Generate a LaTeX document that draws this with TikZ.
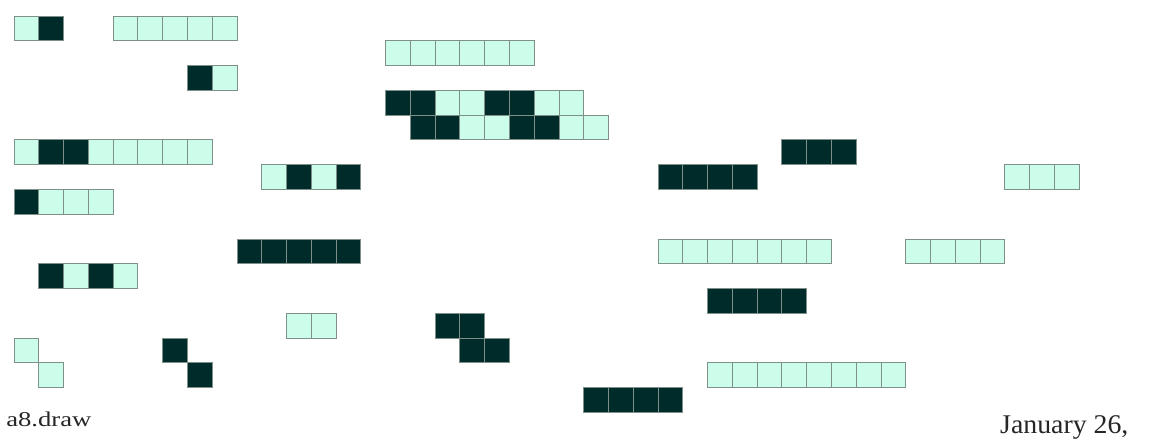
\documentclass[tikz,border=0pt]{standalone}
\usepackage{fontspec}
\setmainfont{Liberation Serif}
\definecolor{lt}{HTML}{CCFDEB}
\definecolor{dk}{HTML}{002B2B}
\definecolor{edge}{HTML}{7E9088}
\tikzset{cellbox/.style={draw=edge, line width=0.8pt},
  lbl/.style={inner sep=0pt, text=black!85}}
\newcommand\tiles[3]{%
  \foreach \cc [count=\i from 0] in {#3}{%
    \draw[cellbox, fill=\cc] (#1+\i,#2) rectangle ++(1,1);}}
\begin{document}
\begin{tikzpicture}[x=1pt,y=-1pt]
\useasboundingbox[fill=white] (0,0) rectangle (1150,444);
\begin{scope}[shift={(14pt,-16pt)}, x=24.77pt, y=-24.77pt]
\tiles{0}{0}{lt,dk}
\tiles{4}{0}{lt,lt,lt,lt,lt}
\tiles{7}{2}{dk,lt}
\tiles{15}{1}{lt,lt,lt,lt,lt,lt}
\tiles{15}{3}{dk,dk,lt,lt,dk,dk,lt,lt}
\tiles{16}{4}{dk,dk,lt,lt,dk,dk,lt,lt}
\tiles{0}{5}{lt,dk,dk,lt,lt,lt,lt,lt}
\tiles{31}{5}{dk,dk,dk}
\tiles{10}{6}{lt,dk,lt,dk}
\tiles{26}{6}{dk,dk,dk,dk}
\tiles{40}{6}{lt,lt,lt}
\tiles{0}{7}{dk,lt,lt,lt}
\tiles{9}{9}{dk,dk,dk,dk,dk}
\tiles{26}{9}{lt,lt,lt,lt,lt,lt,lt}
\tiles{36}{9}{lt,lt,lt,lt}
\tiles{1}{10}{dk,lt,dk,lt}
\tiles{28}{11}{dk,dk,dk,dk}
\tiles{11}{12}{lt,lt}
\tiles{17}{12}{dk,dk}
\tiles{18}{13}{dk,dk}
\tiles{0}{13}{lt}
\tiles{1}{14}{lt}
\tiles{6}{13}{dk}
\tiles{7}{14}{dk}
\tiles{28}{14}{lt,lt,lt,lt,lt,lt,lt,lt}
\tiles{23}{15}{dk,dk,dk,dk}
\end{scope}
\node[lbl, anchor=base west, font=\fontsize{21}{25}\selectfont, xscale=1.27] (file) at (6,426) {a8.draw};
\node[lbl, anchor=base west, font=\fontsize{27}{32}\selectfont, xscale=1.03] (date) at (1000,433) {January 26,};
\end{tikzpicture}
\end{document}
